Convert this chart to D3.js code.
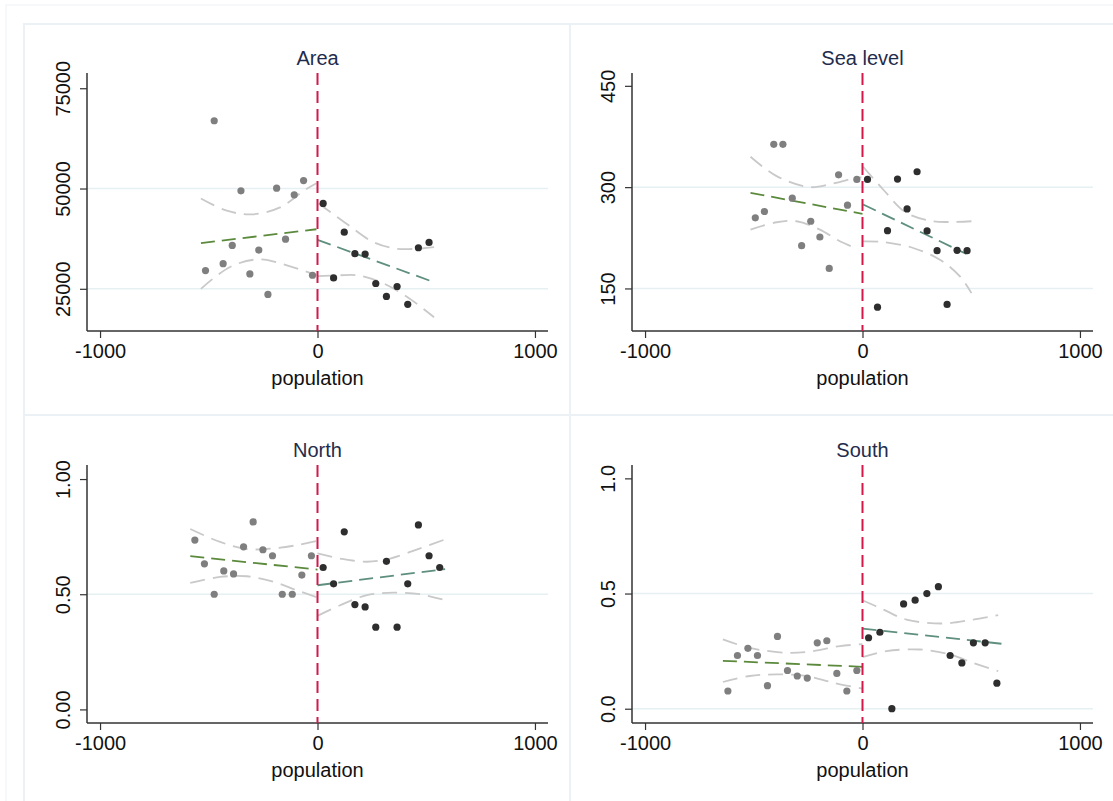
<!DOCTYPE html>
<html>
<head>
<meta charset="utf-8">
<script src="https://cdn.jsdelivr.net/npm/d3@7"></script>
<style>
  html, body { margin: 0; padding: 0; background: #ffffff; }
  svg { display: block; font-family: "Liberation Sans", Arial, sans-serif; }
</style>
</head>
<body>
<svg id="chart" width="1113" height="801"></svg>
<script>
// ---- shared axis values ----
const xTickValues = [-1000, 0, 1000];
const xTickLabels = ["-1000", "0", "1000"];
const xDomain = [-1060, 1060];
const xLabel = "population";

// ---- Area ----
const areaLeftX = [-475, -352, -188, -64, -107, -147, -392, -270, -434, -515, -311, -23, -228];
const areaLeftY = [66900, 49420, 50080, 51980, 48430, 37380, 35810, 34650, 31270, 29540, 28710, 28380, 23600];
const areaRightX = [26, 123, 74, 172, 219, 268, 317, 366, 415, 464, 513];
const areaRightY = [46290, 39110, 27720, 33750, 33670, 26320, 23100, 25580, 21120, 35230, 36550];
const areaFitLeftX = [-536, -5];
const areaFitLeftY = [36390, 39850];
const areaFitRightX = [0, 536];
const areaFitRightY = [37210, 26650];
const areaCiLeftX = [-536, -417, -300, -172, -64, -5];
const areaCiLeftHi = [47525, 44470, 43565, 45300, 49420, 51300];
const areaCiLeftLoX = [-536, -402, -270, -141, -5];
const areaCiLeftLo = [25000, 30450, 32345, 30860, 28380];
const areaCiRightHiX = [5, 135, 257, 365, 457, 536];
const areaCiRightHi = [46290, 41170, 36640, 34985, 34985, 35400];
const areaCiRightLoX = [0, 104, 181, 288, 411, 536];
const areaCiRightLo = [28140, 28380, 28380, 26735, 23020, 17900];
const areaTicks = [25000, 50000, 75000];
const areaTickLabels = ["25000", "50000", "75000"];
const areaGrid = [25000, 50000];
const areaDomain = [14480, 78800];

// ---- Sea level ----
const seaLeftX = [-493, -451, -408, -366, -323, -280, -238, -196, -153, -110, -69, -26];
const seaLeftY = [254.5, 263.9, 363.4, 363.4, 283.7, 213.4, 249.5, 226.2, 179.7, 318.3, 273.3, 311.4];
const seaRightX = [23, 69, 115, 161, 205, 251, 297, 343, 389, 435, 481];
const seaRightY = [311.4, 122.3, 235.6, 311.9, 267.8, 322.8, 235.2, 205.9, 126.3, 206.4, 205.9];
const seaFitLeftX = [-515, 0];
const seaFitLeftY = [291.6, 260.4];
const seaFitRightX = [3, 478];
const seaFitRightY = [274.3, 201];
const seaCiLeftX = [-515, -395, -242, -135, -28, -5];
const seaCiLeftHi = [345, 316.3, 300, 305.4, 313.9, 314.5];
const seaCiLeftLoX = [-515, -395, -303, -196, -104, -20];
const seaCiLeftLo = [237.1, 248, 249.5, 237.1, 219.8, 208.4];
const seaCiRightHiX = [3, 95, 202, 325, 417, 501];
const seaCiRightHi = [330.2, 296.5, 261.9, 249.5, 248.5, 249.5];
const seaCiRightLoX = [3, 95, 233, 356, 448, 501];
const seaCiRightLo = [219.8, 218.8, 209.9, 192.6, 167.8, 143.1];
const seaTicks = [150, 300, 450];
const seaTickLabels = ["150", "300", "450"];
const seaGrid = [150, 300];
const seaDomain = [87, 469];

// ---- North ----
const northLeftX = [-564, -520, -475, -431, -386, -340, -296, -251, -207, -162, -116, -72, -28];
const northLeftY = [0.735, 0.632, 0.500, 0.601, 0.588, 0.706, 0.814, 0.693, 0.667, 0.500, 0.500, 0.583, 0.667];
const northRightX = [26, 74, 123, 172, 219, 268, 317, 366, 415, 464, 513, 562];
const northRightY = [0.616, 0.545, 0.771, 0.455, 0.445, 0.357, 0.643, 0.357, 0.545, 0.801, 0.667, 0.616];
const northFitLeftX = [-585, 0];
const northFitLeftY = [0.665, 0.607];
const northFitRightX = [0, 587];
const northFitRightY = [0.539, 0.609];
const northCiLeftX = [-585, -448, -325, -202, -95, 0];
const northCiLeftHi = [0.783, 0.727, 0.696, 0.699, 0.713, 0.732];
const northCiLeftLoX = [-585, -448, -325, -202, -95, 0];
const northCiLeftLo = [0.549, 0.575, 0.578, 0.554, 0.517, 0.486];
const northCiRightHiX = [0, 104, 227, 334, 472, 587];
const northCiRightHi = [0.677, 0.655, 0.641, 0.655, 0.699, 0.738];
const northCiRightLoX = [0, 104, 227, 349, 472, 587];
const northCiRightLo = [0.406, 0.452, 0.496, 0.507, 0.500, 0.474];
const northTicks = [0, 0.5, 1];
const northTickLabels = ["0.00", "0.50", "1.00"];
const northGrid = [0.5];
const northDomain = [-0.059, 1.061];

// ---- South ----
const southLeftX = [-619, -575, -527, -483, -437, -391, -345, -300, -254, -208, -164, -118, -72, -26];
const southLeftY = [0.077, 0.231, 0.262, 0.231, 0.100, 0.314, 0.166, 0.142, 0.133, 0.286, 0.295, 0.153, 0.077, 0.166];
const southRightX = [28, 80, 135, 189, 242, 296, 349, 403, 457, 510, 564, 618];
const southRightY = [0.308, 0.332, 0.000, 0.455, 0.471, 0.500, 0.530, 0.231, 0.199, 0.286, 0.286, 0.111];
const southFitLeftX = [-642, 0];
const southFitLeftY = [0.208, 0.182];
const southFitRightX = [0, 639];
const southFitRightY = [0.348, 0.282];
const southCiLeftX = [-642, -518, -349, -227, -104, 0];
const southCiLeftHi = [0.301, 0.264, 0.243, 0.250, 0.272, 0.280];
const southCiLeftLoX = [-642, -518, -395, -257, -135, 0];
const southCiLeftLo = [0.116, 0.142, 0.149, 0.142, 0.113, 0.087];
const southCiRightHiX = [0, 95, 202, 371, 509, 624];
const southCiRightHi = [0.471, 0.431, 0.387, 0.370, 0.387, 0.406];
const southCiRightLoX = [0, 110, 264, 402, 509, 624];
const southCiRightLo = [0.224, 0.250, 0.257, 0.236, 0.199, 0.163];
const southTicks = [0, 0.5, 1];
const southTickLabels = ["0.0", "0.5", "1.0"];
const southGrid = [0, 0.5];
const southDomain = [-0.062, 1.058];

const zip = (xs, ys) => xs.map((x, i) => [x, ys[i]]);

const panels = [
  { title: "Area", col: 0, row: 0, domain: areaDomain, ticks: areaTicks, tickLabels: areaTickLabels, grid: areaGrid,
    left: zip(areaLeftX, areaLeftY), right: zip(areaRightX, areaRightY),
    fitL: zip(areaFitLeftX, areaFitLeftY), fitR: zip(areaFitRightX, areaFitRightY),
    ci: [zip(areaCiLeftX, areaCiLeftHi), zip(areaCiLeftLoX, areaCiLeftLo), zip(areaCiRightHiX, areaCiRightHi), zip(areaCiRightLoX, areaCiRightLo)] },
  { title: "Sea level", col: 1, row: 0, domain: seaDomain, ticks: seaTicks, tickLabels: seaTickLabels, grid: seaGrid,
    left: zip(seaLeftX, seaLeftY), right: zip(seaRightX, seaRightY),
    fitL: zip(seaFitLeftX, seaFitLeftY), fitR: zip(seaFitRightX, seaFitRightY),
    ci: [zip(seaCiLeftX, seaCiLeftHi), zip(seaCiLeftLoX, seaCiLeftLo), zip(seaCiRightHiX, seaCiRightHi), zip(seaCiRightLoX, seaCiRightLo)] },
  { title: "North", col: 0, row: 1, domain: northDomain, ticks: northTicks, tickLabels: northTickLabels, grid: northGrid,
    left: zip(northLeftX, northLeftY), right: zip(northRightX, northRightY),
    fitL: zip(northFitLeftX, northFitLeftY), fitR: zip(northFitRightX, northFitRightY),
    ci: [zip(northCiLeftX, northCiLeftHi), zip(northCiLeftLoX, northCiLeftLo), zip(northCiRightHiX, northCiRightHi), zip(northCiRightLoX, northCiRightLo)] },
  { title: "South", col: 1, row: 1, domain: southDomain, ticks: southTicks, tickLabels: southTickLabels, grid: southGrid,
    left: zip(southLeftX, southLeftY), right: zip(southRightX, southRightY),
    fitL: zip(southFitLeftX, southFitLeftY), fitR: zip(southFitRightX, southFitRightY),
    ci: [zip(southCiLeftX, southCiLeftHi), zip(southCiLeftLoX, southCiLeftLo), zip(southCiRightHiX, southCiRightHi), zip(southCiRightLoX, southCiRightLo)] }
];

// ---- layout ----
const svg = d3.select("#chart");
const frameColor = "#ebf1f4";
const colX = [24, 570];
const rowY = [24, 415];
const cellW = 546, cellH = 391;

// outer frame and panel boxes
svg.append("rect").attr("x", 6).attr("y", 5).attr("width", 1200).attr("height", 900)
  .attr("fill", "#ffffff").attr("stroke", "#f3f6f8").attr("stroke-width", 1.5);
panels.forEach(p => {
  svg.append("rect").attr("x", colX[p.col]).attr("y", rowY[p.row])
    .attr("width", cellW).attr("height", cellH)
    .attr("fill", "#ffffff").attr("stroke", frameColor).attr("stroke-width", 2);
});

const plotLeft = [87, 632];
const plotWidth = 461;
const plotTop = [73, 465];
const plotBottom = [331, 723];

panels.forEach(p => {
  const x = d3.scaleLinear().domain(xDomain).range([plotLeft[p.col], plotLeft[p.col] + plotWidth]);
  const y = d3.scaleLinear().domain(p.domain).range([plotBottom[p.row], plotTop[p.row]]);
  const g = svg.append("g");
  const x0 = x.range()[0], x1 = x.range()[1];
  const yb = plotBottom[p.row], yt = plotTop[p.row];

  // grid lines
  g.selectAll(".grid").data(p.grid).enter().append("line")
    .attr("x1", x0).attr("x2", x1)
    .attr("y1", d => y(d)).attr("y2", d => y(d))
    .attr("stroke", "#e6eff2").attr("stroke-width", 1.5);

  // y axis
  const yAxis = d3.axisLeft(y).tickValues(p.ticks)
    .tickFormat((d, i) => p.tickLabels[i]).tickSize(7).tickPadding(0);
  const ya = g.append("g").attr("transform", `translate(${x0},0)`).call(yAxis);
  ya.select(".domain").attr("d", `M0,${yt}V${yb}`).attr("stroke", "#333").attr("stroke-width", 1.5);
  ya.selectAll(".tick line").attr("stroke", "#333").attr("stroke-width", 1.2);
  ya.selectAll(".tick text")
    .attr("x", 0).attr("y", 0).attr("dy", null)
    .attr("transform", "translate(-24,0) rotate(-90)")
    .attr("text-anchor", "middle").attr("dominant-baseline", "central")
    .attr("font-size", 20).attr("fill", "#111");

  // x axis
  const xAxis = d3.axisBottom(x).tickValues(xTickValues)
    .tickFormat((d, i) => xTickLabels[i]).tickSize(7).tickPadding(6);
  const xa = g.append("g").attr("transform", `translate(0,${yb})`).call(xAxis);
  xa.select(".domain").attr("d", `M${x0},0H${x1}`).attr("stroke", "#333").attr("stroke-width", 1.5);
  xa.selectAll(".tick line").attr("stroke", "#333").attr("stroke-width", 1.2);
  xa.selectAll(".tick text").attr("font-size", 20).attr("fill", "#111").attr("dy", "0.71em");

  // axis title
  g.append("text").attr("x", x(0)).attr("y", yb + 47)
    .attr("text-anchor", "middle").attr("dominant-baseline", "central")
    .attr("font-size", 20).attr("fill", "#111").text(xLabel);

  // panel title
  g.append("text").attr("x", x(0)).attr("y", yt - 15)
    .attr("text-anchor", "middle").attr("dominant-baseline", "central")
    .attr("font-size", 20).attr("fill", "#1f2c4c").text(p.title);

  // confidence bands
  const curve = d3.line().x(d => x(d[0])).y(d => y(d[1])).curve(d3.curveCatmullRom);
  g.selectAll(".ci").data(p.ci).enter().append("path")
    .attr("d", curve).attr("fill", "none")
    .attr("stroke", "#c9c9c9").attr("stroke-width", 1.8).attr("stroke-dasharray", "15,8");

  // linear fits
  const straight = d3.line().x(d => x(d[0])).y(d => y(d[1]));
  g.append("path").attr("d", straight(p.fitL)).attr("fill", "none")
    .attr("stroke", "#5b8a3c").attr("stroke-width", 1.8).attr("stroke-dasharray", "14,7");
  g.append("path").attr("d", straight(p.fitR)).attr("fill", "none")
    .attr("stroke", "#5f8f7e").attr("stroke-width", 1.8).attr("stroke-dasharray", "14,7");

  // scatter points
  g.selectAll(".ptL").data(p.left).enter().append("circle")
    .attr("cx", d => x(d[0])).attr("cy", d => y(d[1])).attr("r", 3.6).attr("fill", "#7f7f7f");
  g.selectAll(".ptR").data(p.right).enter().append("circle")
    .attr("cx", d => x(d[0])).attr("cy", d => y(d[1])).attr("r", 3.6).attr("fill", "#2e2e2e");

  // cutoff line at zero
  g.append("line").attr("x1", x(0)).attr("x2", x(0)).attr("y1", yt).attr("y2", yb)
    .attr("stroke", "#d2194a").attr("stroke-width", 2).attr("stroke-dasharray", "12,6");
});
</script>
</body>
</html>
